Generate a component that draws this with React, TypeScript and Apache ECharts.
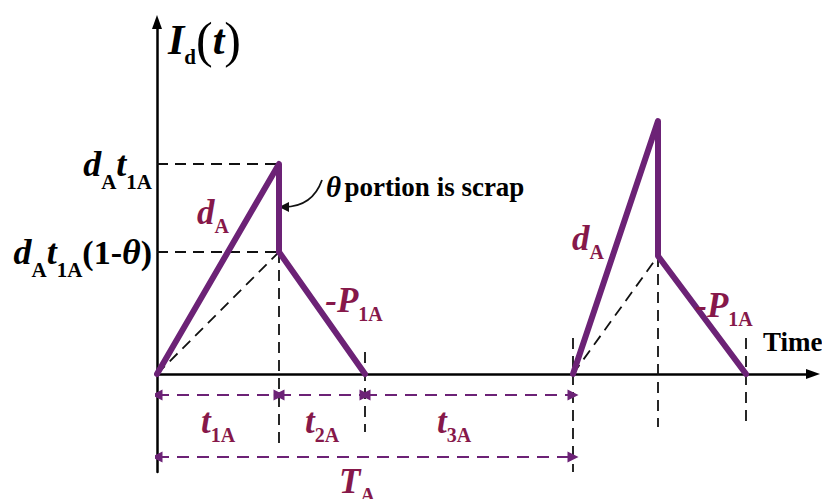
import React, { useEffect, useRef } from "react";
import * as echarts from "echarts";

// ---- data (x: time units, y: inventory level units) ----
const cycle1Time = [0, 12.2, 12.2, 20.8];
const cycle1Level = [0, 21, 12.2, 0];
const cycle2Time = [41.6, 50.1, 50.1, 58.9];
const cycle2Level = [0, 25.3, 11.8, 0];
const levelTicks = [21, 12.2];
const levelTickLabels = [
  "{v|d}{s|A}{v|t}{s|1A}",
  "{v|d}{s|A}{v|t}{s|1A}{p|(1-}{v|θ}{p|)}",
];
const intervalBounds = [0, 12.2, 20.8, 41.6];
const intervalLabels = ["{m|t}{ms|1A}", "{m|t}{ms|2A}", "{m|t}{ms|3A}"];
const cycleLabel = "{m|T}{ms|A}";

// ---- layout constants ----
const PURPLE = "#6c2276";
const MAROON = "#86184a";
const FONT = "'Liberation Serif', 'Times New Roman', serif";
const X_MAX = 65.6;
const Y_MIN = -9.8;
const Y_MAX = 35.2;
const ROW1_Y = -2.1;
const ROW2_Y = -8.3;

const App: React.FC = () => {
  const ref = useRef<HTMLDivElement>(null);

  useEffect(() => {
    if (!ref.current) return;
    const chart = echarts.init(ref.current, undefined, { renderer: "svg" });

    const pts = (xs: number[], ys: number[]) => xs.map((x, i) => [x, ys[i]]);

    const blackDash = [
      // horizontal guides to the axis labels
      [[0, cycle1Level[1]], [cycle1Time[1], cycle1Level[1]]],
      [[0, cycle1Level[2]], [cycle1Time[2], cycle1Level[2]]],
      // diagonals (non-scrapped accumulation)
      [[cycle1Time[0], 0], [cycle1Time[2], cycle1Level[2]]],
      [[cycle2Time[0], 0], [cycle2Time[2], cycle2Level[2]]],
      // vertical guides
      [[cycle1Time[2], cycle1Level[2]], [cycle1Time[2], -7.1]],
      [[cycle1Time[3], 2.2], [cycle1Time[3], -5.8]],
      [[cycle2Time[0], 3.6], [cycle2Time[0], Y_MIN]],
      [[cycle2Time[2], cycle2Level[2]], [cycle2Time[2], -5.3]],
      [[cycle2Time[3], 3.6], [cycle2Time[3], -5.3]],
    ];

    const dims: number[][][] = [];
    for (let i = 0; i < intervalBounds.length - 1; i++) {
      dims.push([[intervalBounds[i], ROW1_Y], [intervalBounds[i + 1], ROW1_Y]]);
    }
    dims.push([[intervalBounds[0], ROW2_Y], [intervalBounds[intervalBounds.length - 1], ROW2_Y]]);

    const rich = {
      m: { fontFamily: FONT, fontWeight: "bold", fontStyle: "italic", fontSize: 35, lineHeight: 48, color: MAROON },
      ms: { fontFamily: FONT, fontWeight: "bold", fontSize: 20, lineHeight: 20, verticalAlign: "bottom", color: MAROON },
      bI: { fontFamily: FONT, fontWeight: "bold", fontStyle: "italic", fontSize: 42, lineHeight: 54, color: "#000" },
      bs: { fontFamily: FONT, fontWeight: "bold", fontSize: 21, lineHeight: 21, verticalAlign: "bottom", color: "#000" },
      bp: { fontFamily: FONT, fontWeight: "normal", fontSize: 50, lineHeight: 54, color: "#000" },
      n: { fontFamily: FONT, fontWeight: "bold", fontSize: 27, lineHeight: 32, color: "#000" },
      nt: { fontFamily: FONT, fontWeight: "bold", fontStyle: "italic", fontSize: 29, lineHeight: 32, color: "#000" },
    };

    const labelItems = [
      { name: "{bI|I}{bs|d}{bp|(}{bI|t}{bp|)}", value: [1.1, 33.4], label: { align: "left" } },
      { name: "{nt|θ} {n|portion is scrap}", value: [16.9, 18.7], label: { align: "left" } },
      { name: "{n|Time}", value: [60.6, 3.2], label: { align: "left" } },
      { name: "{m|d}{ms|A}", value: [5.6, 16.2], label: { align: "center" } },
      { name: "{m|-P}{ms|1A}", value: [19.7, 7.4], label: { align: "center" } },
      { name: "{m|d}{ms|A}", value: [43.1, 13.6], label: { align: "center" } },
      { name: "{m|-P}{ms|1A}", value: [56.7, 6.9], label: { align: "center" } },
      ...intervalLabels.map((t, i) => ({
        name: t,
        value: [i === 2 ? 29.7 : (intervalBounds[i] + intervalBounds[i + 1]) / 2, -4.7],
        label: { align: "center" },
      })),
      { name: cycleLabel, value: [20.0, ROW2_Y], label: { align: "center", offset: [0, 24] } },
    ];

    chart.setOption({
      animation: false,
      backgroundColor: "#fff",
      grid: { left: 157, right: 822 - 157 - X_MAX * 10, top: 374 - Y_MAX * 10, bottom: 499 - (374 - Y_MIN * 10) },
      xAxis: {
        type: "value",
        min: 0,
        max: X_MAX,
        axisLine: {
          show: true,
          onZero: true,
          symbol: ["none", "triangle"],
          symbolSize: [10, 14],
          lineStyle: { color: "#000", width: 2.5 },
        },
        axisTick: { show: false },
        axisLabel: { show: false },
        splitLine: { show: false },
      },
      yAxis: {
        type: "value",
        min: Y_MIN,
        max: Y_MAX,
        axisLine: {
          show: true,
          symbol: ["none", "triangle"],
          symbolSize: [10, 14],
          lineStyle: { color: "#000", width: 2.5 },
        },
        axisTick: { show: false },
        splitLine: { show: false },
        axisLabel: {
          show: true,
          customValues: levelTicks,
          margin: 5,
          formatter: (v: number) => {
            const i = levelTicks.findIndex((t) => Math.abs(t - v) < 1e-6);
            return i >= 0 ? levelTickLabels[i] : "";
          },
          rich: {
            v: { fontFamily: FONT, fontWeight: "bold", fontStyle: "italic", fontSize: 36, lineHeight: 56, color: "#000" },
            s: { fontFamily: FONT, fontWeight: "bold", fontSize: 21, lineHeight: 21, verticalAlign: "bottom", color: "#000" },
            p: { fontFamily: FONT, fontWeight: "bold", fontSize: 34, lineHeight: 56, color: "#000" },
          },
        },
      },
      series: [
        {
          type: "lines",
          coordinateSystem: "cartesian2d",
          silent: true,
          symbol: ["none", "none"],
          lineStyle: { color: "#111", width: 1.8, type: [11, 7], opacity: 1 },
          data: blackDash.map((c) => ({ coords: c })),
          z: 2,
        },
        {
          type: "lines",
          coordinateSystem: "cartesian2d",
          silent: true,
          symbol: ["triangle", "triangle"],
          symbolSize: 11,
          lineStyle: { color: PURPLE, width: 2.2, type: [12, 8], opacity: 1 },
          data: dims.map((c) => ({ coords: c })),
          z: 3,
        },
        {
          type: "lines",
          coordinateSystem: "cartesian2d",
          silent: true,
          symbol: ["none", "triangle"],
          symbolSize: 10,
          lineStyle: { color: "#111", width: 1.8, curveness: 0.35, opacity: 1 },
          data: [{ coords: [[16.5, 19.4], [12.7, 16.7]] }],
          z: 3,
        },
        {
          type: "line",
          silent: true,
          symbol: "none",
          lineStyle: { color: PURPLE, width: 6, join: "round", cap: "round" },
          data: pts(cycle1Time, cycle1Level),
          z: 4,
        },
        {
          type: "line",
          silent: true,
          symbol: "none",
          lineStyle: { color: PURPLE, width: 6, join: "round", cap: "round" },
          data: pts(cycle2Time, cycle2Level),
          z: 4,
        },
        {
          type: "scatter",
          silent: true,
          symbolSize: 0,
          itemStyle: { opacity: 1 },
          data: labelItems,
          label: {
            show: true,
            opacity: 1,
            position: "inside",
            verticalAlign: "middle",
            formatter: (p: any) => p.name,
            rich,
          },
          z: 5,
        },
      ],
    });

    return () => chart.dispose();
  }, []);

  return (
    <div
      ref={ref}
      style={{ position: "fixed", left: 0, top: 0, width: 822, height: 499, background: "#fff" }}
    />
  );
};

export default App;
